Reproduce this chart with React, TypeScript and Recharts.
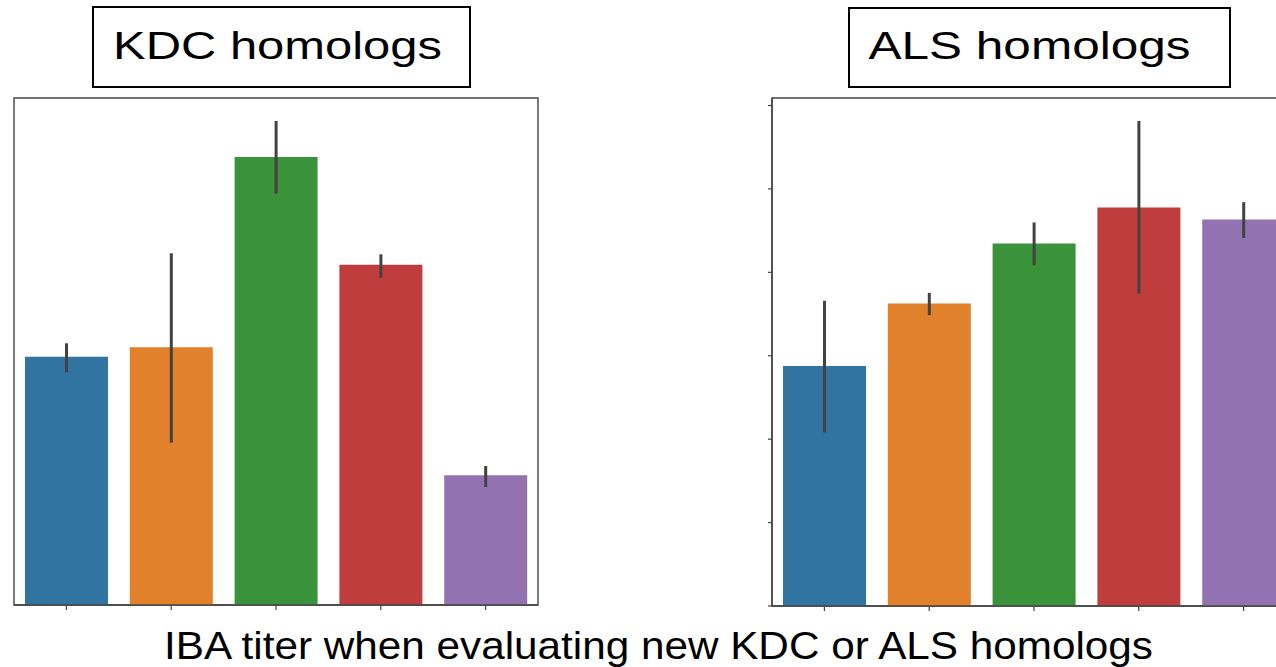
import React from "react";
import { BarChart, Bar, XAxis, YAxis, ErrorBar, Cell, ReferenceArea } from "recharts";

// Categories (homolog variants, unlabeled in the original)
const categories = ["H1", "H2", "H3", "H4", "H5"];
const colors = ["#3274a1", "#e1812c", "#3a923a", "#c03d3e", "#9372b2"];

// KDC homologs panel (relative IBA titer, arbitrary units 0-100)
const kdcValues = [48.97, 50.83, 88.36, 67.12, 25.58];
const kdcLower = [45.9, 32.01, 81.12, 64.56, 23.27];
const kdcUpper = [51.62, 69.37, 95.46, 69.17, 27.42];

// ALS homologs panel (arbitrary units, tick every 1)
const alsValues = [2.876, 3.627, 4.346, 4.778, 4.634];
const alsLower = [2.082, 3.487, 4.083, 3.747, 4.413];
const alsUpper = [3.659, 3.754, 4.598, 5.815, 4.841];
const alsTicks = [0, 1, 2, 3, 4, 5, 6];

const buildRows = (vals: number[], lo: number[], hi: number[]) =>
  categories.map((name, i) => ({
    name,
    value: vals[i],
    err: [vals[i] - lo[i], hi[i] - vals[i]],
  }));

const kdcData = buildRows(kdcValues, kdcLower, kdcUpper);
const alsData = buildRows(alsValues, alsLower, alsUpper);

const FONT = "'Liberation Sans', Arial, Helvetica, sans-serif";
const SPINE = "#444444";
const noTick = () => <g />;

export default function App() {
  return (
    <div
      style={{
        position: "absolute",
        left: 0,
        top: 0,
        width: 1276,
        height: 667,
        overflow: "hidden",
        background: "#ffffff",
      }}
    >
      {/* KDC panel */}
      <div style={{ position: "absolute", left: 0, top: 0 }}>
        <BarChart
          width={560}
          height={620}
          data={kdcData}
          margin={{ top: 98, right: 22, bottom: 0, left: 14 }}
          barSize={83}
        >
          <XAxis
            dataKey="name"
            height={15}
            tickSize={5}
            tick={noTick}
            tickLine={{ stroke: SPINE, strokeWidth: 1.2 }}
            axisLine={{ stroke: SPINE, strokeWidth: 1.4 }}
          />
          <YAxis hide domain={[0, 100]} type="number" allowDataOverflow />
          <Bar dataKey="value" isAnimationActive={false}>
            {kdcData.map((d, i) => (
              <Cell key={d.name} fill={colors[i]} />
            ))}
            <ErrorBar dataKey="err" width={0} stroke="#424242" strokeWidth={3} />
          </Bar>
          <ReferenceArea
            x1={categories[0]}
            x2={categories[categories.length - 1]}
            y1={0}
            y2={100}
            fill="none"
            stroke={SPINE}
            strokeWidth={1.4}
            ifOverflow="visible"
          />
        </BarChart>
      </div>

      {/* ALS panel */}
      <div style={{ position: "absolute", left: 740, top: 0 }}>
        <BarChart
          width={578}
          height={621}
          data={alsData}
          margin={{ top: 98, right: 22, bottom: 0, left: 22 }}
          barSize={83}
        >
          <XAxis
            dataKey="name"
            height={15}
            tickSize={5}
            tick={noTick}
            tickLine={{ stroke: SPINE, strokeWidth: 1.2 }}
            axisLine={{ stroke: SPINE, strokeWidth: 1.4 }}
          />
          <YAxis
            type="number"
            domain={[0, 6.09]}
            ticks={alsTicks}
            width={10}
            tickSize={4}
            tick={noTick}
            tickLine={{ stroke: SPINE, strokeWidth: 1.2 }}
            axisLine={{ stroke: SPINE, strokeWidth: 1.4 }}
            allowDataOverflow
          />
          <Bar dataKey="value" isAnimationActive={false}>
            {alsData.map((d, i) => (
              <Cell key={d.name} fill={colors[i]} />
            ))}
            <ErrorBar dataKey="err" width={0} stroke="#424242" strokeWidth={3} />
          </Bar>
          <ReferenceArea
            x1={categories[0]}
            x2={categories[categories.length - 1]}
            y1={0}
            y2={6.09}
            fill="none"
            stroke={SPINE}
            strokeWidth={1.4}
            ifOverflow="visible"
          />
        </BarChart>
      </div>

      {/* Titles and caption */}
      <svg
        width={1276}
        height={667}
        style={{ position: "absolute", left: 0, top: 0, pointerEvents: "none" }}
      >
        <rect x={93} y={7} width={377} height={80} fill="#ffffff" stroke="#000000" strokeWidth={2} />
        <text
          x={113}
          y={58.5}
          fontFamily={FONT}
          fontSize={39}
          fill="#000000"
          textLength={329}
          lengthAdjust="spacingAndGlyphs"
        >
          KDC homologs
        </text>
        <rect x={849} y={8} width={381} height={79} fill="#ffffff" stroke="#000000" strokeWidth={2} />
        <text
          x={868.5}
          y={58.5}
          fontFamily={FONT}
          fontSize={39}
          fill="#000000"
          textLength={322}
          lengthAdjust="spacingAndGlyphs"
        >
          ALS homologs
        </text>
        <text
          x={164}
          y={658.5}
          fontFamily={FONT}
          fontSize={39.5}
          fill="#000000"
          textLength={989}
          lengthAdjust="spacingAndGlyphs"
        >
          IBA titer when evaluating new KDC or ALS homologs
        </text>
      </svg>
    </div>
  );
}
